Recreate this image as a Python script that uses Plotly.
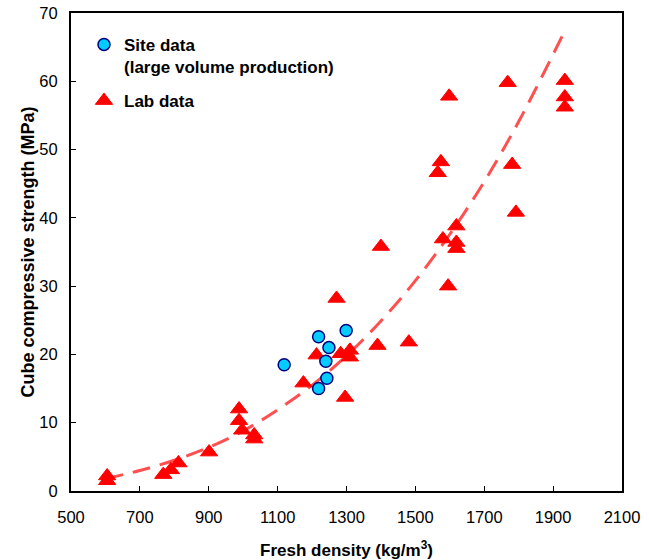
import plotly.graph_objects as go

# Site data (large volume production)
site_density = [1119, 1219, 1249, 1299, 1240, 1243, 1219]
site_strength = [18.5, 22.6, 21.0, 23.5, 19.0, 16.5, 15.0]

# Lab data
lab_density = [605, 605, 768, 790, 812, 901, 988, 988, 997, 1032, 1032,
               1175, 1213, 1271, 1283, 1296, 1310, 1310, 1390, 1400, 1481,
               1565, 1574, 1580, 1595, 1598, 1619, 1619, 1619,
               1768, 1781, 1792, 1934, 1934, 1934]
lab_strength = [2.2, 1.5, 2.4, 3.1, 4.1, 5.7, 12.0, 10.3, 8.9, 8.2, 7.6,
                15.8, 19.9, 28.2, 20.1, 13.7, 20.6, 19.6, 21.3, 35.8, 21.8,
                46.6, 48.2, 36.9, 30.0, 57.8, 38.8, 36.4, 35.5,
                59.8, 47.8, 40.8, 60.1, 57.7, 56.2]

# Trend curve
trend_density = [600, 700, 800, 900, 1000, 1100, 1200, 1300, 1400, 1500, 1600, 1700, 1800, 1935]
trend_strength = [1.8, 3.0, 4.5, 6.4, 8.8, 11.9, 15.5, 19.8, 24.9, 30.8, 37.6, 45.3, 54.1, 67.5]

x_ticks = [500, 700, 900, 1100, 1300, 1500, 1700, 1900, 2100]
y_ticks = [0, 10, 20, 30, 40, 50, 60, 70]

FONT = "Arial, 'Liberation Sans', sans-serif"

fig = go.Figure()
fig.add_trace(go.Scatter(
    x=trend_density, y=trend_strength, mode="lines", line_shape="spline",
    line=dict(color="#FF5050", width=3, dash="18px,10px"),
    showlegend=False, hoverinfo="skip"))
fig.add_trace(go.Scatter(
    x=lab_density, y=lab_strength, mode="markers", name="<b>Lab data</b>",
    marker=dict(symbol="triangle-up", size=15, color="#FF0000",
                line=dict(color="#FF0000", width=1)),
    legendgroup="lab", legendrank=2))
fig.add_trace(go.Scatter(
    x=site_density, y=site_strength, mode="markers",
    name="<b>Site data<br>(large volume production)</b>",
    marker=dict(symbol="circle", size=12, color="#00CCFF",
                line=dict(color="#000080", width=1.5)),
    legendgroup="site", legendrank=1))

fig.update_layout(
    width=649, height=560,
    margin=dict(l=71, r=27, t=13, b=69),
    paper_bgcolor="white", plot_bgcolor="white",
    font=dict(family=FONT, size=16.5, color="black"),
    legend=dict(x=0.0236, y=0.971, xanchor="left", yanchor="top",
                bgcolor="rgba(0,0,0,0)", font=dict(size=17),
                valign="top", tracegroupgap=9, itemsizing="trace"),
    xaxis=dict(range=[500, 2100], tickvals=x_ticks, ticks="inside", ticklen=5,
               tickwidth=1, tickcolor="black", showline=True, linecolor="black",
               linewidth=2, mirror=True, showgrid=False, zeroline=False,
               ticklabelstandoff=10, automargin=False, ticklabeloverflow="allow",
               title=dict(text="<b>Fresh density (kg/m<sup>3</sup>)</b>",
                          font=dict(size=17), standoff=28)),
    yaxis=dict(range=[0, 70], tickvals=y_ticks, ticks="inside", ticklen=5,
               tickwidth=1, tickcolor="black", showline=True, linecolor="black",
               linewidth=2, mirror=True, showgrid=False, zeroline=False,
               ticklabelstandoff=8, automargin=False, ticklabeloverflow="allow",
               title=dict(text="<b>Cube compressive strength (MPa)</b>",
                          font=dict(size=18), standoff=0)),
)

# remove the browser's default 8px body margin so the figure fills the window
fig.write_html("out.html",
               config={"displayModeBar": False},
               post_script="document.body.style.margin='0';"
                           "document.body.style.overflow='hidden';")
